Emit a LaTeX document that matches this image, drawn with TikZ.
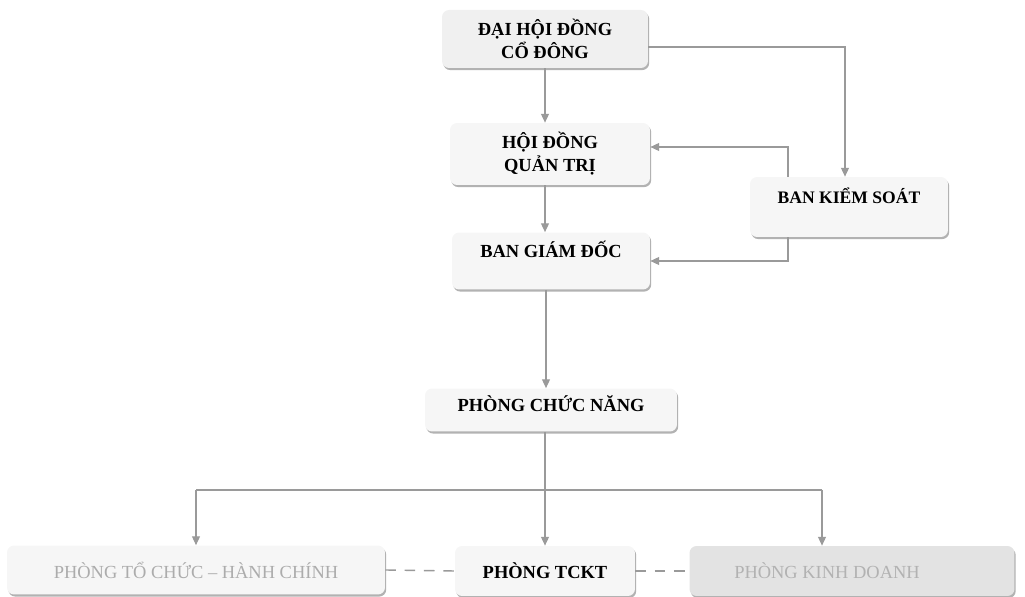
\documentclass[tikz,border=0pt]{standalone}
\usepackage{fontspec}
\setmainfont{Liberation Serif}
\usetikzlibrary{arrows.meta,shadows}
\definecolor{lineg}{HTML}{9A9A9A}
\definecolor{boxg}{HTML}{F6F6F6}
\begin{document}
\begin{tikzpicture}[x=0.02cm,y=-0.02cm,>={Triangle[length=5pt,width=4.5pt]},
	font=\fontsize{10.5}{13}\selectfont\bfseries,
	box/.style={rounded corners=4pt,fill=boxg,align=center,inner sep=2pt,
		drop shadow={shadow xshift=0.7pt,shadow yshift=-1.2pt,fill=gray!75,opacity=0.8}},
	link/.style={->,color=lineg,line width=0.7pt},
	dashlink/.style={color=lineg,line width=0.8pt,dash pattern=on 6pt off 5pt}]
				\useasboundingbox (0,0) rectangle (1025,597);
				\node[box,fill=gray!12,minimum width=4.12cm,minimum height=1.16cm] (dhcd) at (545,39) {ĐẠI HỘI ĐỒNG\\CỔ ĐÔNG};
				\node[box,minimum width=4cm,minimum height=1.24cm] (hdqt) at (550,154) {HỘI ĐỒNG\\QUẢN TRỊ};
				\node[box,minimum width=3.96cm,minimum height=1.14cm,text depth=0.45cm] (bgd) at (551,261) {BAN GIÁM ĐỐC};
				\node[box,minimum width=3.96cm,minimum height=1.2cm,text depth=0.45cm,font=\fontsize{10}{12}\selectfont\bfseries] (bks) at (849,207) {BAN KIỂM SOÁT};
				\node[box,minimum width=5.04cm,minimum height=0.86cm,text depth=0.27cm] (pcn) at (551,410) {PHÒNG CHỨC NĂNG};
				\node[box,minimum width=7.56cm,minimum height=0.98cm,text=gray!65,font=\fontsize{10.5}{13}\selectfont] (ptchc) at (196,570) {PHÒNG TỔ CHỨC – HÀNH CHÍNH};
				\node[box,minimum width=3.6cm,minimum height=1cm] (ptckt) at (545,571) {PHÒNG TCKT};
				\node[box,fill=gray!22,minimum width=6.5cm,minimum height=1cm,text=gray!60,font=\fontsize{10.5}{13}\selectfont] (pkd) at (852,571) {PHÒNG KINH DOANH\hspace*{1cm}};
				% main line
				\draw[link] (dhcd.south -| 545,0) -- (hdqt.north -| 545,0);
				\draw[link] (hdqt.south -| 545,0) -- (bgd.north -| 545,0);
				\draw[link] (bgd.south -| 546,0) -- (pcn.north -| 546,0);
				% ban kiem soat
				\draw[link] ([yshift=-0.16cm]dhcd.east) -| ([xshift=-0.08cm]bks.north);
				\draw[link] ([xshift=-1.22cm]bks.north) |- ([yshift=0.14cm]hdqt.east);
				\draw[link] ([xshift=-1.22cm]bks.south) |- (bgd.east);
				% phong ban
				\coordinate (bus) at (545,490);
				\draw[color=lineg,line width=0.7pt] (ptchc.north |- bus) -- (bus -| 822,0);
				\draw[link] (ptckt.north |- pcn.south) -- (ptckt.north);
				\draw[link] (ptchc.north |- bus) -- (ptchc.north);
				\draw[link] ([xshift=-0.6cm]pkd.north |- bus) -- ([xshift=-0.6cm]pkd.north);
				\draw[dashlink] (ptchc.east) -- (ptckt.west);
				\draw[dashlink] (ptckt.east) -- (pkd.west);
\end{tikzpicture}
\end{document}
